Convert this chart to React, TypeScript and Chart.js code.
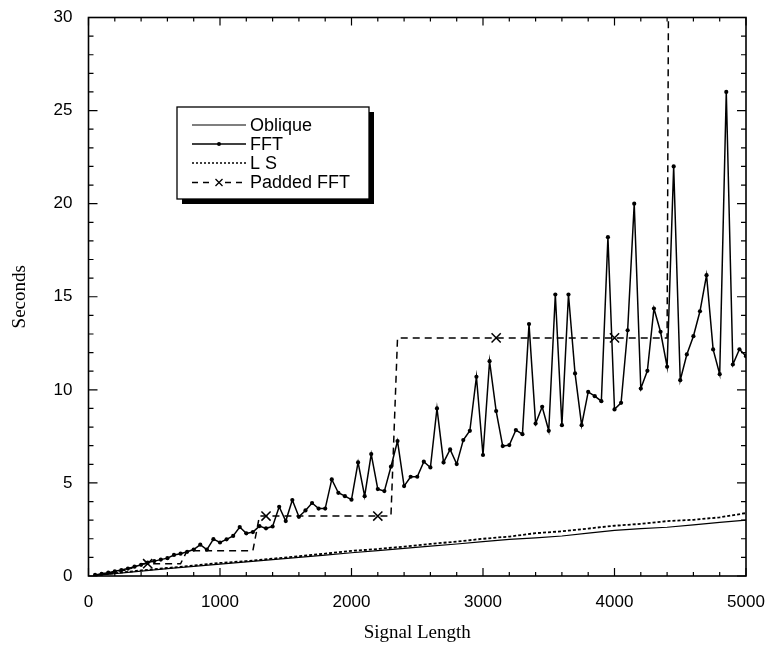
import React, { useEffect, useRef } from "react";
import { Chart, registerables } from "chart.js";

Chart.register(...registerables);

// Signal lengths at which the FFT / padded FFT timings were measured
const sampleLengths = [
  50, 100, 150, 200, 250, 300, 350, 400, 450, 500,
  550, 600, 650, 700, 750, 800, 850, 900, 950, 1000,
  1050, 1100, 1150, 1200, 1250, 1300, 1350, 1400, 1450, 1500,
  1550, 1600, 1650, 1700, 1750, 1800, 1850, 1900, 1950, 2000,
  2050, 2100, 2150, 2200, 2250, 2300, 2350, 2400, 2450, 2500,
  2550, 2600, 2650, 2700, 2750, 2800, 2850, 2900, 2950, 3000,
  3050, 3100, 3150, 3200, 3250, 3300, 3350, 3400, 3450, 3500,
  3550, 3600, 3650, 3700, 3750, 3800, 3850, 3900, 3950, 4000,
  4050, 4100, 4150, 4200, 4250, 4300, 4350, 4400, 4450, 4500,
  4550, 4600, 4650, 4700, 4750, 4800, 4850, 4900, 4950, 5000,
];

const fftSeconds = [
  0.06, 0.12, 0.18, 0.25, 0.32, 0.4, 0.5, 0.6, 0.72, 0.8,
  0.88, 0.96, 1.13, 1.2, 1.3, 1.42, 1.68, 1.42, 1.98, 1.8,
  1.97, 2.15, 2.63, 2.29, 2.36, 2.68, 2.56, 2.66, 3.72, 2.95,
  4.08, 3.18, 3.52, 3.92, 3.62, 3.62, 5.19, 4.47, 4.29, 4.1,
  6.1, 4.29, 6.55, 4.67, 4.56, 5.87, 7.25, 4.83, 5.33, 5.33,
  6.14, 5.83, 9.0, 6.1, 6.8, 6.01, 7.3, 7.8, 10.7, 6.5,
  11.54, 8.86, 6.98, 7.03, 7.84, 7.62, 13.53, 8.19, 9.09, 7.8,
  15.12, 8.1, 15.12, 10.88, 8.1, 9.89, 9.66, 9.39, 18.2, 8.95,
  9.3, 13.2, 20.0, 10.07, 11.02, 14.37, 13.12, 11.24, 22.0, 10.52,
  11.9, 12.88, 14.22, 16.16, 12.17, 10.84, 26.0, 11.36, 12.18, 11.81,
];

// Padded FFT (same lengths, up to 4450; the last value runs off the top)
const paddedSeconds = [
  0.04, 0.08, 0.15, 0.2, 0.3, 0.32, 0.5, 0.66, 0.66, 0.66,
  0.66, 0.66, 0.66, 0.66, 1.36, 1.36, 1.36, 1.36, 1.36, 1.36,
  1.36, 1.36, 1.36, 1.36, 1.36, 3.22, 3.22, 3.22, 3.22, 3.22,
  3.22, 3.22, 3.22, 3.22, 3.22, 3.22, 3.22, 3.22, 3.22, 3.22,
  3.22, 3.22, 3.22, 3.22, 3.22, 3.22, 12.79, 12.79, 12.79, 12.79,
  12.79, 12.79, 12.79, 12.79, 12.79, 12.79, 12.79, 12.79, 12.79, 12.79,
  12.79, 12.79, 12.79, 12.79, 12.79, 12.79, 12.79, 12.79, 12.79, 12.79,
  12.79, 12.79, 12.79, 12.79, 12.79, 12.79, 12.79, 12.79, 12.79, 12.79,
  12.79, 12.79, 12.79, 12.79, 12.79, 12.79, 12.79, 12.79, 100,
];
const paddedMarkerLengths = [450, 1350, 2200, 3100, 4000];

// Oblique and L S timings
const lineLengths = [
  50, 200, 400, 600, 800, 1000, 1200, 1400, 1600, 1800, 2000, 2200, 2400,
  2600, 2800, 3000, 3200, 3400, 3600, 3800, 4000, 4200, 4400, 4600, 4800, 5000,
];
const obliqueSeconds = [
  0.03, 0.13, 0.26, 0.4, 0.52, 0.64, 0.76, 0.88, 1.0, 1.12, 1.25, 1.36, 1.48,
  1.6, 1.72, 1.85, 1.97, 2.05, 2.15, 2.3, 2.45, 2.55, 2.62, 2.75, 2.88, 3.0,
];
const lsSeconds = [
  0.04, 0.15, 0.3, 0.43, 0.56, 0.7, 0.8, 0.93, 1.06, 1.2, 1.35, 1.45, 1.58,
  1.72, 1.85, 2.0, 2.12, 2.3, 2.4, 2.55, 2.7, 2.8, 2.95, 3.02, 3.15, 3.38,
];

const legendLabels = ["Oblique", "FFT", "L S", "Padded FFT"];

const SANS = "'Liberation Sans', Arial, sans-serif";
const SERIF = "'Liberation Serif', 'Times New Roman', serif";

const frameTicksPlugin = {
  id: "frameTicks",
  afterDatasetsDraw(chart: any) {
    const { ctx, chartArea: a, scales } = chart;
    const xs = scales.x;
    const ys = scales.y;
    ctx.save();
    ctx.strokeStyle = "#000";
    ctx.lineWidth = 1.2;
    ctx.beginPath();
    for (let v = 0; v <= 5000; v += 200) {
      const px = xs.getPixelForValue(v);
      const len = v % 1000 === 0 ? 8 : 4;
      ctx.moveTo(px, a.bottom);
      ctx.lineTo(px, a.bottom - len);
      ctx.moveTo(px, a.top);
      ctx.lineTo(px, a.top + len);
    }
    for (let v = 0; v <= 30; v += 1) {
      const py = ys.getPixelForValue(v);
      const len = v % 5 === 0 ? 9 : 5;
      ctx.moveTo(a.left, py);
      ctx.lineTo(a.left + len, py);
      ctx.moveTo(a.right, py);
      ctx.lineTo(a.right - len, py);
    }
    ctx.stroke();
    ctx.lineWidth = 1.6;
    ctx.strokeRect(a.left, a.top, a.right - a.left, a.bottom - a.top);
    ctx.restore();
  },
};

const boxLegendPlugin = {
  id: "boxLegend",
  afterDraw(chart: any) {
    const { ctx } = chart;
    const x0 = 177;
    const y0 = 107;
    const w = 192;
    const h = 92;
    ctx.save();
    ctx.fillStyle = "#000";
    ctx.fillRect(x0 + 5, y0 + 5, w, h);
    ctx.fillStyle = "#fff";
    ctx.fillRect(x0, y0, w, h);
    ctx.strokeStyle = "#000";
    ctx.lineWidth = 1.3;
    ctx.strokeRect(x0, y0, w, h);

    const sx0 = 192;
    const sx1 = 246;
    const rowY = [125, 144, 163, 182.5];
    ctx.font = `18px ${SANS}`;
    ctx.textBaseline = "middle";
    ctx.textAlign = "left";
    legendLabels.forEach((label, i) => {
      const y = rowY[i];
      ctx.beginPath();
      ctx.strokeStyle = "#000";
      if (i === 0) {
        ctx.setLineDash([]);
        ctx.lineWidth = 1.1;
      } else if (i === 1) {
        ctx.setLineDash([]);
        ctx.lineWidth = 1.5;
      } else if (i === 2) {
        ctx.setLineDash([2, 2]);
        ctx.lineWidth = 1.6;
      } else {
        ctx.setLineDash([6, 5]);
        ctx.lineWidth = 1.5;
      }
      ctx.moveTo(sx0, y);
      ctx.lineTo(sx1, y);
      ctx.stroke();
      ctx.setLineDash([]);
      const mx = (sx0 + sx1) / 2;
      if (i === 1) {
        ctx.beginPath();
        ctx.arc(mx, y, 2, 0, Math.PI * 2);
        ctx.fillStyle = "#000";
        ctx.fill();
      }
      if (i === 3) {
        ctx.fillStyle = "#fff";
        ctx.fillRect(mx - 5, y - 4, 10, 8);
        ctx.beginPath();
        ctx.lineWidth = 1.3;
        ctx.moveTo(mx - 3.5, y - 3.5);
        ctx.lineTo(mx + 3.5, y + 3.5);
        ctx.moveTo(mx + 3.5, y - 3.5);
        ctx.lineTo(mx - 3.5, y + 3.5);
        ctx.stroke();
      }
      ctx.fillStyle = "#000";
      ctx.fillText(label, 250, y + 1);
    });
    ctx.restore();
  },
};

export default function App() {
  const ref = useRef<HTMLCanvasElement>(null);

  useEffect(() => {
    const canvas = ref.current;
    if (!canvas) return;

    const fftData = sampleLengths.map((x, i) => ({ x, y: fftSeconds[i] }));
    const paddedData = paddedSeconds.map((y, i) => ({ x: sampleLengths[i], y }));
    const obliqueData = lineLengths.map((x, i) => ({ x, y: obliqueSeconds[i] }));
    const lsData = lineLengths.map((x, i) => ({ x, y: lsSeconds[i] }));

    const chart = new Chart(canvas, {
      type: "line",
      data: {
        datasets: [
          {
            label: "Oblique",
            data: obliqueData,
            borderColor: "#000",
            borderWidth: 1.2,
            pointRadius: 0,
            tension: 0,
          },
          {
            label: "FFT",
            data: fftData,
            borderColor: "#000",
            backgroundColor: "#000",
            borderWidth: 1.5,
            pointRadius: 2.1,
            pointBorderWidth: 0,
            pointBackgroundColor: "#000",
            tension: 0,
          },
          {
            label: "L S",
            data: lsData,
            borderColor: "#000",
            borderWidth: 1.8,
            borderDash: [3, 2],
            pointRadius: 0,
            tension: 0,
          },
          {
            label: "Padded FFT",
            data: paddedData,
            borderColor: "#000",
            borderWidth: 1.5,
            borderDash: [7, 5],
            pointStyle: "crossRot",
            pointRadius: (c: any) =>
              c.raw && paddedMarkerLengths.includes(c.raw.x) ? 6.5 : 0,
            pointBorderWidth: 1.5,
            pointBorderColor: "#000",
            tension: 0,
          },
        ],
      },
      options: {
        responsive: false,
        animation: false,
        devicePixelRatio: 1,
        layout: { padding: { top: 17.5, right: 23, left: 0, bottom: 0 } },
        plugins: {
          legend: { display: false },
          tooltip: { enabled: false },
        },
        scales: {
          x: {
            type: "linear",
            min: 0,
            max: 5000,
            grid: { display: false, drawTicks: false },
            border: { display: false },
            ticks: {
              stepSize: 1000,
              padding: 16,
              color: "#000",
              maxRotation: 0,
              font: { family: SANS, size: 17 },
              callback: (v: any) => String(v),
            },
            title: {
              display: true,
              text: "Signal Length",
              color: "#000",
              font: { family: SERIF, size: 19 },
              padding: { top: 0, bottom: 4 },
            },
            afterFit: (s: any) => {
              s.height = 72;
              s.paddingLeft = 0;
              s.paddingRight = 0;
            },
          },
          y: {
            type: "linear",
            min: 0,
            max: 30,
            grid: { display: false, drawTicks: false },
            border: { display: false },
            ticks: {
              stepSize: 5,
              padding: 16,
              color: "#000",
              font: { family: SANS, size: 17 },
              callback: (v: any) => String(v),
            },
            title: {
              display: true,
              text: "Seconds",
              color: "#000",
              font: { family: SERIF, size: 19 },
              padding: { top: 9, bottom: 0 },
            },
            afterFit: (s: any) => {
              s.width = 88.5;
              s.paddingTop = 0;
              s.paddingBottom = 0;
            },
          },
        },
      },
      plugins: [frameTicksPlugin, boxLegendPlugin],
    } as any);

    return () => chart.destroy();
  }, []);

  return (
    <div
      style={{
        position: "fixed",
        left: 0,
        top: 0,
        width: 769,
        height: 648,
        background: "#fff",
      }}
    >
      <canvas
        ref={ref}
        width={769}
        height={648}
        style={{ display: "block", width: 769, height: 648 }}
      />
    </div>
  );
}
